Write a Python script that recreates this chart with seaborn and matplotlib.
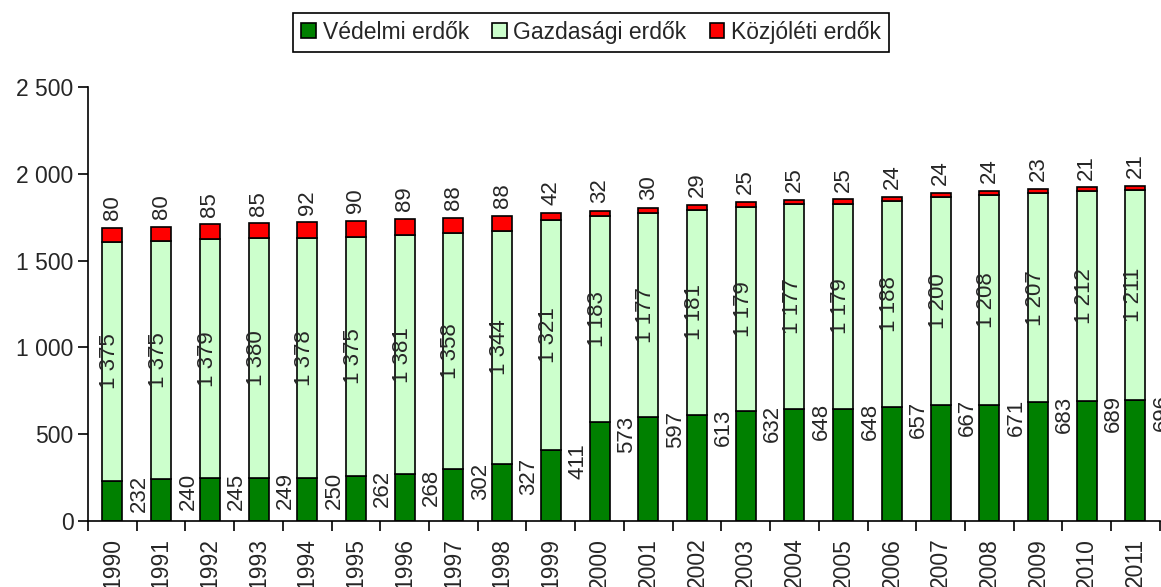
## Erdok megoszlasa rendeltetes szerint - halmozott oszlopdiagram

import numpy as np
import pandas as pd
import seaborn as sns
import matplotlib.pyplot as plt
from matplotlib.patches import Patch
from matplotlib.ticker import FuncFormatter, FixedLocator

## Adatok
evek = [str(e) for e in range(1990, 2012)]
vedelmi = [232, 240, 245, 249, 250, 262, 268, 302, 327, 411, 573,
           597, 613, 632, 648, 648, 657, 667, 671, 683, 689, 696]
gazdasagi = [1375, 1375, 1379, 1380, 1378, 1375, 1381, 1358, 1344, 1321, 1183,
             1177, 1181, 1179, 1177, 1179, 1188, 1200, 1208, 1207, 1212, 1211]
kozjoleti = [80, 80, 85, 85, 92, 90, 89, 88, 88, 42, 32,
             30, 29, 25, 25, 25, 24, 24, 24, 23, 21, 21]
sorozatok = ['Védelmi erdők', 'Gazdasági erdők', 'Közjóléti erdők']
szinek = ['#008000', '#ccffcc', '#ff0000']

df = pd.DataFrame({'Ev': evek, 'Vedelmi': vedelmi,
                   'Gazdasagi': gazdasagi, 'Kozjoleti': kozjoleti})

## Stilus
sns.set_style('white')
plt.rcParams['font.family'] = ['Liberation Sans', 'DejaVu Sans']

def ezres(v):
    return '{:,}'.format(int(v)).replace(',', ' ')

fig = plt.figure(figsize=(11.61, 5.87), dpi=100)
ax = fig.add_axes([0.0758, 0.1124, 0.9232, 0.7394])

# Halmozott oszlopok
also = np.zeros(len(evek))
for oszlop, szin in zip(['Vedelmi', 'Gazdasagi', 'Kozjoleti'], szinek):
    sns.barplot(data=df, x='Ev', y=oszlop, order=evek, color=szin,
                width=0.41, bottom=also, edgecolor='black', linewidth=1.2,
                saturation=1, ax=ax)
    also = also + df[oszlop].values

# Feliratok
for i in range(len(evek)):
    ax.text(i + 0.55, vedelmi[i] + 35, ezres(vedelmi[i]), rotation=90,
            ha='center', va='top', fontsize=16, clip_on=False)
    ax.text(i - 0.05, vedelmi[i] + gazdasagi[i] / 2, ezres(gazdasagi[i]),
            rotation=90, ha='center', va='center', fontsize=16)
    ax.text(i, also[i] + 45, ezres(kozjoleti[i]), rotation=90,
            ha='center', va='bottom', fontsize=16)

# Tengelyek
ax.set_xlim(-0.5, len(evek) - 0.5)
ax.set_ylim(0, 2500)
ax.set_yticks(range(0, 2501, 500))
ax.yaxis.set_major_formatter(FuncFormatter(lambda v, p: ezres(v)))
ax.set_xlabel('')
ax.set_ylabel('')
ax.set_xticks(range(len(evek)))
ax.set_xticklabels(evek, rotation=90)
ax.xaxis.set_minor_locator(FixedLocator(np.arange(-0.5, len(evek), 1.0)))
ax.tick_params(axis='x', which='major', length=0, labelsize=16.5, pad=12)
ax.tick_params(axis='x', which='minor', length=7, width=1.2,
               direction='out', color='black', bottom=True)
ax.tick_params(axis='y', length=7, width=1.2, direction='out',
               color='black', labelsize=16.5, left=True)
for s in ['top', 'right']:
    ax.spines[s].set_visible(False)
for s in ['left', 'bottom']:
    ax.spines[s].set_color('black')
    ax.spines[s].set_linewidth(1.2)
ax.grid(False)

# Jelmagyarazat
jelek = [Patch(facecolor=c, edgecolor='black', linewidth=1.2) for c in szinek]
leg = fig.legend(jelek, sorozatok, loc='center', ncol=3,
                 bbox_to_anchor=(0.509, 0.945), fontsize=16.5,
                 handlelength=0.65, handleheight=0.65, handletextpad=0.3,
                 columnspacing=1.0, fancybox=False, framealpha=1,
                 borderpad=0.35, edgecolor='black')
leg.get_frame().set_linewidth(1.2)

plt.savefig('out.png', dpi=100)
